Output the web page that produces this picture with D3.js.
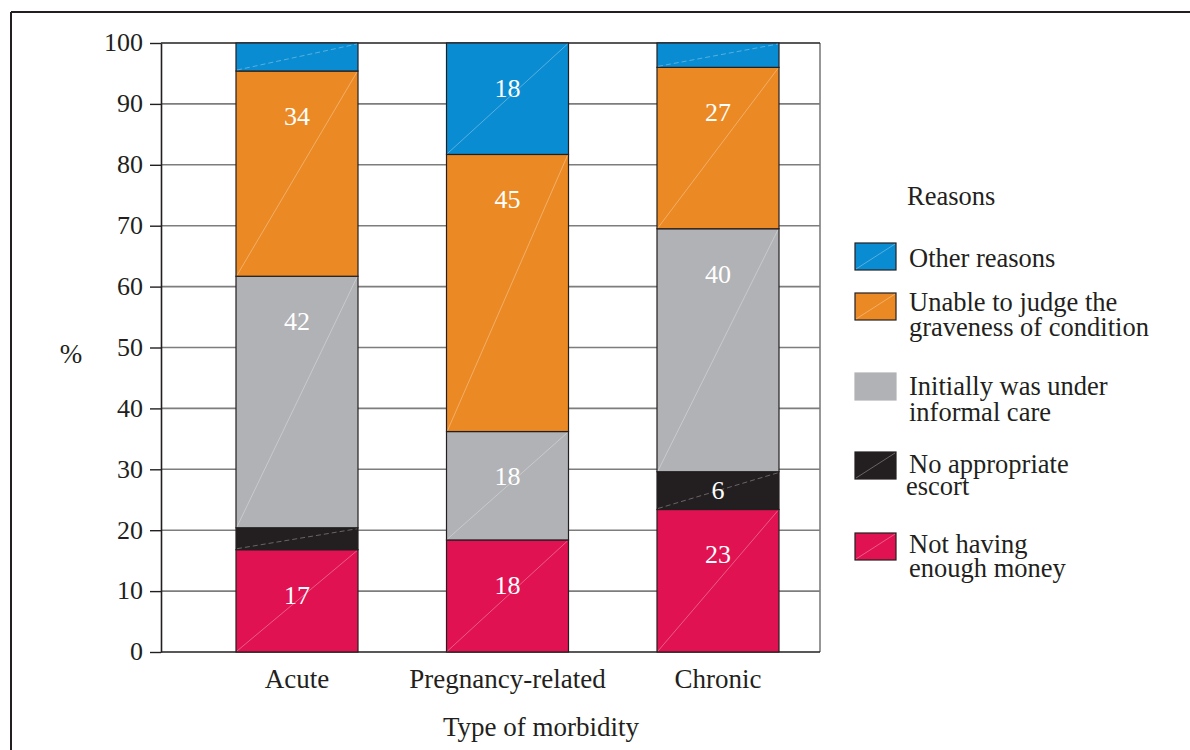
<!DOCTYPE html>
<html><head><meta charset="utf-8">
<script src="https://cdn.jsdelivr.net/npm/d3@7/dist/d3.min.js"></script>
<style>
html,body{margin:0;padding:0;background:#fff;}
svg{display:block;}
text{font-family:"Liberation Serif","Times New Roman",serif;fill:#231f20;}
</style></head>
<body>
<svg id="chart" width="1190" height="750"></svg>
<script>
// ---- data ----
const categories = ["Acute", "Pregnancy-related", "Chronic"];
const reasonKeys = ["money", "escort", "informal", "unable", "other"]; // bottom to top
const moneyValues    = [16.8, 18.4, 23.4];
const escortValues   = [3.6, 0, 6.2];
const informalValues = [41.3, 17.8, 39.9];
const unableValues   = [33.7, 45.5, 26.5];
const otherValues    = [4.6, 18.3, 4.0];
const moneyLabels    = ["17", "18", "23"];
const escortLabels   = ["", "", "6"];
const informalLabels = ["42", "18", "40"];
const unableLabels   = ["34", "45", "27"];
const otherLabels    = ["", "18", ""];
const yTicks = [0, 10, 20, 30, 40, 50, 60, 70, 80, 90, 100];
const legendTitle = "Reasons";
const legendKeys = ["other", "unable", "informal", "escort", "money"];
const legendNames = [
  ["Other reasons"],
  ["Unable to judge the", "graveness of condition"],
  ["Initially was under", "informal care"],
  ["No appropriate", "escort"],
  ["Not having", "enough money"]
];
const yAxisTitle = "%";
const xAxisTitle = "Type of morbidity";

// ---- styles ----
const colors = {money:"#e11252", escort:"#231f20", informal:"#b1b2b5", unable:"#eb8a24", other:"#0a8cd2"};
const valuesByKey = {money:moneyValues, escort:escortValues, informal:informalValues, unable:unableValues, other:otherValues};
const labelsByKey = {money:moneyLabels, escort:escortLabels, informal:informalLabels, unable:unableLabels, other:otherLabels};

const svg = d3.select("#chart");

// figure frame
svg.append("line").attr("x1",11).attr("x2",1190).attr("y1",12).attr("y2",12).attr("stroke","#231f20").attr("stroke-width",2);
svg.append("line").attr("x1",11).attr("x2",11).attr("y1",12).attr("y2",750).attr("stroke","#231f20").attr("stroke-width",2);

const plotL = 161, plotR = 820, plotT = 43, plotB = 652;
const y = d3.scaleLinear().domain([0,100]).range([plotB, plotT]);
const x = d3.scalePoint().domain(categories).range([297, 718]);
const barW = 122;

// gridlines
svg.append("g").selectAll("line").data(yTicks.filter(t => t>0 && t<100)).join("line")
  .attr("x1", plotL).attr("x2", plotR).attr("y1", d=>y(d)).attr("y2", d=>y(d))
  .attr("stroke","#7d7d7d").attr("stroke-width",1.6);
// frame of plot
svg.append("line").attr("x1",plotR).attr("x2",plotR).attr("y1",plotT).attr("y2",plotB).attr("stroke","#7d7d7d").attr("stroke-width",1.6);
svg.append("line").attr("x1",plotL).attr("x2",plotR).attr("y1",plotT).attr("y2",plotT).attr("stroke","#231f20").attr("stroke-width",1.6);
svg.append("line").attr("x1",plotL).attr("x2",plotR).attr("y1",plotB).attr("y2",plotB).attr("stroke","#231f20").attr("stroke-width",1.6);

// stacked data
const rows = categories.map((c,i) => {
  const r = {category:c};
  reasonKeys.forEach(k => r[k] = valuesByKey[k][i]);
  return r;
});
const stack = d3.stack().keys(reasonKeys)(rows);

const gBars = svg.append("g");
stack.forEach(layer => {
  const key = layer.key;
  layer.forEach((d,i) => {
    if (d[1]-d[0] <= 0) return;
    const cx = x(categories[i]);
    const x0 = cx - barW/2, x1 = cx + barW/2;
    const yt = y(d[1]), yb = y(d[0]);
    gBars.append("rect").attr("x", x0).attr("y", yt).attr("width", barW).attr("height", yb-yt)
      .attr("fill", colors[key]).attr("stroke","#231f20").attr("stroke-width",1.2);
    gBars.append("line").attr("x1", x0+1).attr("y1", yb-1).attr("x2", x1-1).attr("y2", yt+1)
      .attr("stroke","#ffffff").attr("stroke-opacity",0.35).attr("stroke-width",0.9)
      .attr("stroke-dasharray", (yb-yt) < 40 ? "5,3" : null);
    const lab = labelsByKey[key][i];
    if (lab) {
      const h = yb-yt;
      const cy = yt + Math.min(45, h/2);
      gBars.append("text").attr("x", cx).attr("y", cy).attr("dy","0.34em")
        .attr("text-anchor","middle").attr("font-size",26).style("fill","#ffffff").text(lab);
    }
  });
});

// y axis
const yAxis = d3.axisLeft(y).tickValues(yTicks).tickSize(11).tickSizeOuter(0).tickPadding(7);
const gy = svg.append("g").attr("transform",`translate(${plotL},0)`).call(yAxis);
gy.select(".domain").attr("stroke","#231f20").attr("stroke-width",1.6);
gy.selectAll(".tick line").attr("stroke","#231f20").attr("stroke-width",1.4);
gy.selectAll(".tick text").attr("font-size",26).attr("font-family","Liberation Serif").style("fill","#231f20").attr("dy","0.3em");

// x category labels
svg.append("g").selectAll("text").data(categories).join("text")
  .attr("x", d=>x(d)).attr("y", 688).attr("text-anchor","middle").attr("font-size",27).text(d=>d);

// axis titles
svg.append("text").attr("x", 71).attr("y", 363).attr("text-anchor","middle").attr("font-size",27).text(yAxisTitle);
svg.append("text").attr("x", 541).attr("y", 736).attr("text-anchor","middle").attr("font-size",27).text(xAxisTitle);

// legend
const legendLayout = [
  {top:243, base:24, gap:26},
  {top:293, base:18, gap:25},
  {top:373, base:22, gap:26},
  {top:452, base:21, gap:22, dx2:-3},
  {top:533, base:20, gap:24}
];
const gL = svg.append("g");
gL.append("text").attr("x", 907).attr("y", 205).attr("font-size",26.5).text(legendTitle);
legendKeys.forEach((k,i) => {
  const L = legendLayout[i];
  gL.append("rect").attr("x",855).attr("y",L.top).attr("width",41).attr("height",27)
    .attr("fill",colors[k]).attr("stroke", k==="informal" ? "#b1b2b5" : "#231f20").attr("stroke-width",1.2);
  if (k !== "informal") {
    gL.append("line").attr("x1",856).attr("y1",L.top+26).attr("x2",895).attr("y2",L.top+1)
      .attr("stroke","#fff").attr("stroke-opacity",0.35).attr("stroke-width",0.9);
  }
  legendNames[i].forEach((line,j) => {
    gL.append("text").attr("x", 909 + (j>0 && L.dx2 ? L.dx2 : 0)).attr("y", L.top + L.base + j*L.gap)
      .attr("font-size",26.5).text(line);
  });
});
</script>
</body></html>
